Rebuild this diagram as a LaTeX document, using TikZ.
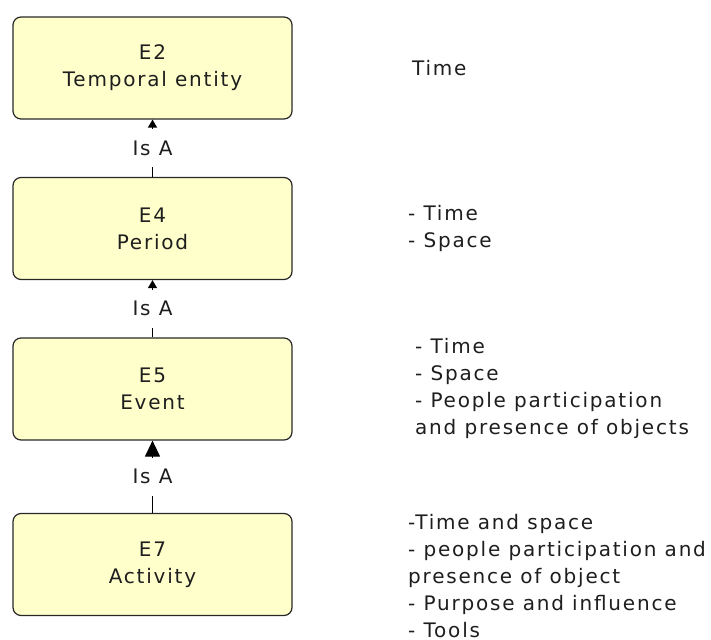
\documentclass[tikz,border=0pt]{standalone}
\usepackage{fontspec}
\setmainfont{DejaVu Sans}[LetterSpace=9]
\usetikzlibrary{arrows.meta}
\definecolor{classfill}{RGB}{255,255,204}
\definecolor{classline}{RGB}{40,40,40}
\definecolor{labeltext}{RGB}{30,30,30}

\begin{document}
\begin{tikzpicture}[x=1pt,y=-1pt,%
  font=\fontsize{20}{27}\selectfont,text=labeltext,%
  every class/.style={rectangle,rounded corners=8pt,fill=classfill,%
  draw=classline,line width=1.2pt,minimum width=279pt,minimum height=102pt,%
  align=center},%
  every note/.style={anchor=west,align=left,inner sep=0pt},%
  isa/.style={fill=white,inner sep=2pt,minimum height=38pt}]

  \clip (0,0) rectangle (711,639);

  \node [every class] (temporal) at (152.5,68) {E2\\Temporal entity};
  \node [every class] (period) at (152.5,228.5) {E4\\Period};
  \node [every class] (event) at (152.5,389) {E5\\Event};
  \node [every class] (activity) at (152.5,564.5) {E7\\Activity};

  \draw [line width=1.2pt,-{Triangle[width=9pt,length=8pt]}] (period) --
    node [isa] {Is A} (temporal);
  \draw [line width=1.2pt,-{Triangle[width=9pt,length=8pt]}] (event) --
    node [isa] {Is A} (period);
  \draw [line width=1.2pt,-{Triangle[width=15pt,length=16pt]}] (activity) --
    node [isa] {Is A} (event);

  \node [every note] (timenote) at (412,68) {Time};
  \node [every note] (periodnote) at (408,228.5) {- Time\\- Space};
  \node [every note] (eventnote) at (415,388) {- Time\\- Space\\%
    - People participation\\and presence of objects};
  \node [every note] (activitynote) at (408,576) {-Time and space\\%
    - people participation and\\presence of object\\%
    - Purpose and influence\\- Tools};
\end{tikzpicture}
\end{document}
